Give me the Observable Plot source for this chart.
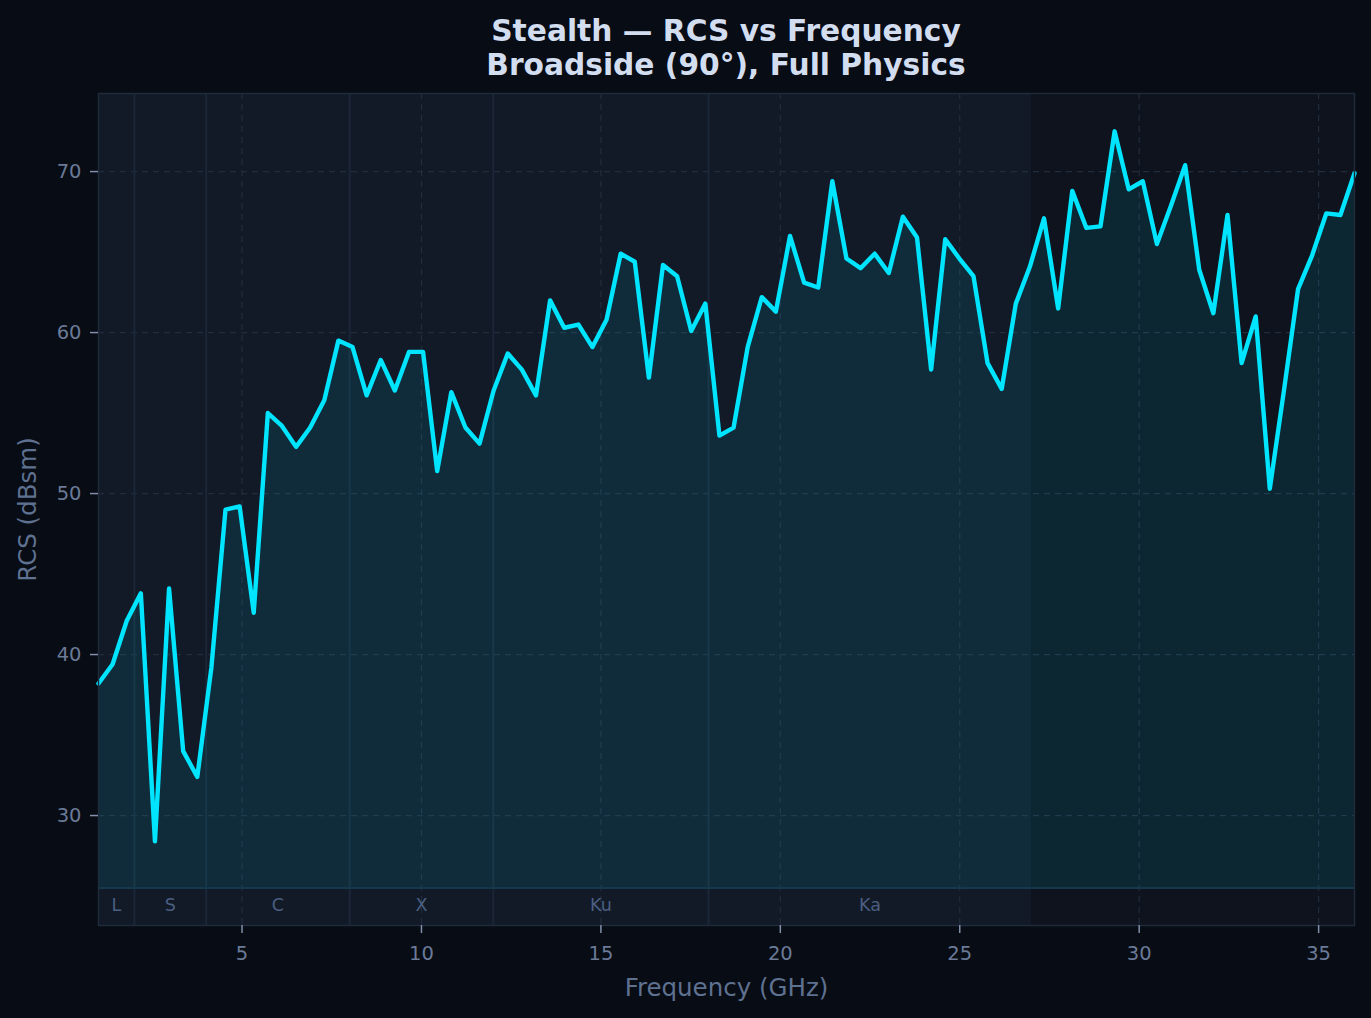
<!DOCTYPE html>
<html><head><meta charset="utf-8">
<script src="https://cdn.jsdelivr.net/npm/d3@7"></script>
<script src="https://cdn.jsdelivr.net/npm/@observablehq/plot@0.6"></script>
<style>
html,body{margin:0;padding:0;background:#080c14;}
#title{box-sizing:border-box;height:82px;padding:14px 17px 0 98px;text-align:center;font-family:"DejaVu Sans";font-weight:bold;font-size:29.7px;line-height:34px;color:#d2ddf0;}
#chart svg{display:block;}
</style></head><body>
<div id="title">Stealth — RCS vs Frequency<br>Broadside (90°), Full Physics</div>
<div id="chart"></div>
<script>
const freqGHz = [1.000,1.393,1.787,2.180,2.573,2.966,3.360,3.753,4.146,4.539,
4.933,5.326,5.719,6.112,6.506,6.899,7.292,7.685,8.079,8.472,
8.865,9.258,9.652,10.045,10.438,10.831,11.225,11.618,12.011,12.404,
12.798,13.191,13.584,13.978,14.371,14.764,15.157,15.551,15.944,16.337,
16.730,17.124,17.517,17.910,18.303,18.697,19.090,19.483,19.876,20.270,
20.663,21.056,21.449,21.843,22.236,22.629,23.022,23.416,23.809,24.202,
24.596,24.989,25.382,25.775,26.169,26.562,26.955,27.348,27.742,28.135,
28.528,28.921,29.315,29.708,30.101,30.494,30.888,31.281,31.674,32.067,
32.461,32.854,33.247,33.640,34.034,34.427,34.820,35.213,35.607,36.000];
const rcsDbsm = [38.2,39.4,42.1,43.8,28.4,44.1,34.0,32.4,39.2,49.0,
49.2,42.6,55.0,54.2,52.9,54.1,55.8,59.5,59.1,56.1,
58.3,56.4,58.8,58.8,51.4,56.3,54.1,53.1,56.4,58.7,
57.7,56.1,62.0,60.3,60.5,59.1,60.8,64.9,64.4,57.2,
64.2,63.5,60.1,61.8,53.6,54.1,59.1,62.2,61.3,66.0,
63.1,62.8,69.4,64.6,64.0,64.9,63.7,67.2,65.9,57.7,
65.8,64.6,63.5,58.1,56.5,61.8,64.1,67.1,61.5,68.8,
66.5,66.6,72.5,68.9,69.4,65.5,67.9,70.4,63.9,61.2,
67.3,58.1,61.0,50.3,56.4,62.7,64.8,67.4,67.3,69.9];
const bandNames = ["L","S","C","X","Ku","Ka"];
const bandStart = [1,2,4,8,12,18];
const bandEnd   = [2,4,8,12,18,27];
const xTicks = [5,10,15,20,25,30,35];
const yTicks = [30,40,50,60,70];
const xDomain = [1,36];
const yDomain = [23.17,74.85];
const stripTop = 25.5;
const stripMid = 24.45;

const data = freqGHz.map((f,i)=>({f, rcs: rcsDbsm[i]}));
const bands = bandNames.map((name,i)=>({name, start: bandStart[i], end: bandEnd[i]}));

const tickColor = "#8190aa";
const labelColor = "#6a7a97";
const gridColor = "#212c3d";

const chart = Plot.plot({
  width: 1371,
  height: 936,
  marginLeft: 98,
  marginRight: 17,
  marginTop: 11,
  marginBottom: 93,
  style: {fontFamily: "DejaVu Sans", background: "#080c14", overflow: "visible"},
  x: {domain: xDomain},
  y: {domain: yDomain},
  marks: [
    Plot.frame({fill: "#0e131e"}),
    Plot.rect(bands, {x1: "start", x2: "end", y1: () => yDomain[0], y2: () => yDomain[1], fill: "#121a28"}),
    Plot.gridY(yTicks, {stroke: gridColor, strokeOpacity: 1, strokeDasharray: "6,5", strokeWidth: 1.2}),
    Plot.gridX(xTicks, {stroke: gridColor, strokeOpacity: 1, strokeDasharray: "6,5", strokeWidth: 1.2}),
    Plot.ruleX(bandStart.slice(1), {stroke: "#1b2637", strokeWidth: 2}),
    Plot.areaY(data, {x: "f", y1: () => stripTop, y2: "rcs", fill: "#00e5ff", fillOpacity: 0.09}),
    Plot.ruleY([stripTop], {stroke: "#15384c", strokeWidth: 2}),
    Plot.lineY(data, {x: "f", y: "rcs", stroke: "#00e5ff", strokeWidth: 4.4, strokeLinejoin: "round"}),
    Plot.text(bands, {x: d => (d.start + d.end) / 2, y: () => stripMid, text: "name", fill: "#4b5f80", fontSize: 17.5}),
    Plot.frame({stroke: "#1f2a3b", strokeWidth: 1.5}),
    Plot.axisX(xTicks, {tickSize: 8, tickPadding: 13, fontSize: 19.5, stroke: tickColor, fill: labelColor, strokeWidth: 1.5, label: null}),
    Plot.axisY(yTicks, {tickSize: 8, tickPadding: 9, fontSize: 19.5, stroke: tickColor, fill: labelColor, strokeWidth: 1.5, label: null}),
    Plot.text(["Frequency (GHz)"], {frameAnchor: "bottom", dy: 63, lineAnchor: "middle", fill: "#5f7191", fontSize: 24.5}),
    Plot.text(["RCS (dBsm)"], {frameAnchor: "left", dx: -70, rotate: -90, textAnchor: "middle", lineAnchor: "middle", fill: "#5f7191", fontSize: 24.5})
  ]
});
document.getElementById("chart").appendChild(chart);
</script>
</body></html>
